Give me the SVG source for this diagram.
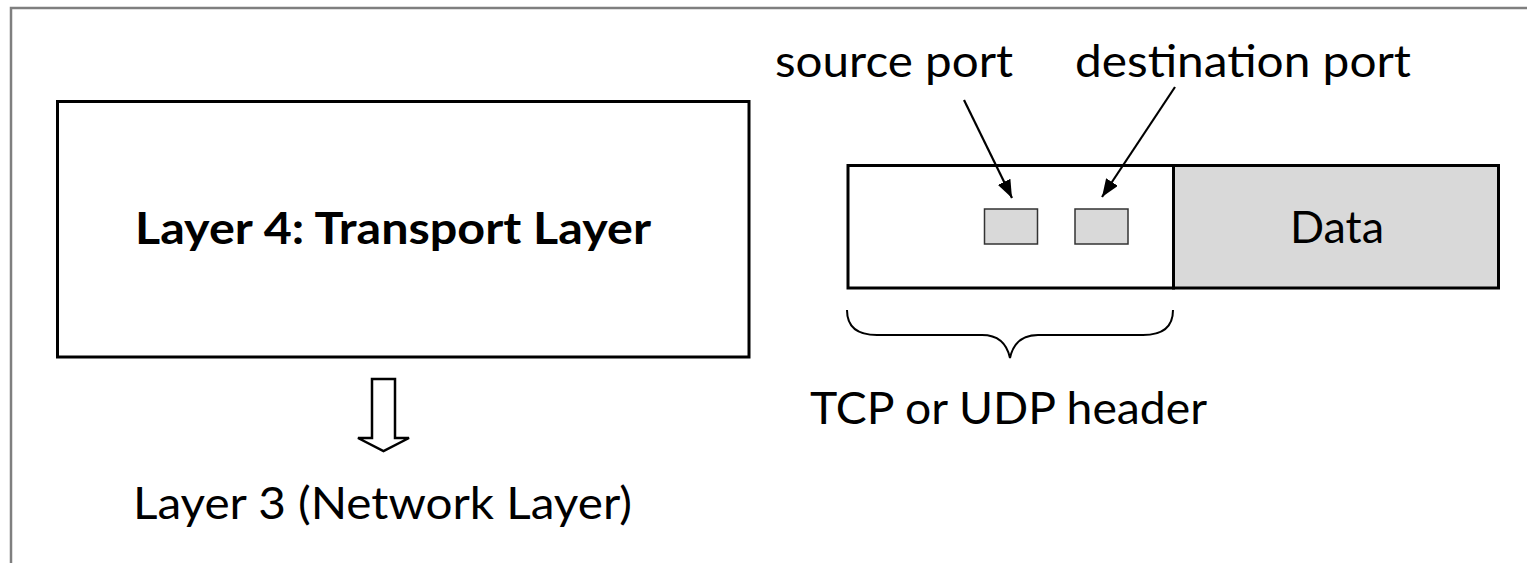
<svg xmlns="http://www.w3.org/2000/svg" width="1527" height="563" viewBox="0 0 1527 563">
  <style>
    .box { fill: #ffffff; stroke: #000000; stroke-width: 3; }
    .shaded { fill: #d9d9d9; stroke: #000000; stroke-width: 3; }
    .field { fill: #d9d9d9; stroke: #333333; stroke-width: 1.5; }
    .lbl { font-family: Lato, "Open Sans", "Liberation Sans", sans-serif; fill: #000000; }
    .bold { font-weight: bold; }
    .pointer { stroke: #000000; stroke-width: 2.2; fill: none; }
  </style>
  <defs>
    <marker id="head" viewBox="0 0 18 14" refX="18" refY="7" markerWidth="18" markerHeight="14" markerUnits="userSpaceOnUse" orient="auto">
      <path d="M0,0 L18,7 L0,14 Z" fill="#000000"/>
    </marker>
  </defs>

  <!-- outer frame -->
  <rect x="11" y="8" width="1600" height="600" fill="#ffffff" stroke="#7f7f7f" stroke-width="2.5"/>

  <!-- transport layer block -->
  <g id="transport-layer">
    <rect class="box" x="57.5" y="101.5" width="691.5" height="255.5"/>
    <text class="lbl bold" x="135" y="244" font-size="44" textLength="516" lengthAdjust="spacingAndGlyphs">Layer 4: Transport Layer</text>
  </g>

  <!-- hollow arrow down to network layer -->
  <g id="down-arrow">
    <polygon points="372,379 395,379 395,438 409,438 383.5,451 358,438 372,438" fill="#ffffff" stroke="#000000" stroke-width="2.5" stroke-linejoin="miter"/>
  </g>

  <g id="network-layer">
    <text class="lbl" x="133" y="519" font-size="44" textLength="499" lengthAdjust="spacingAndGlyphs">Layer 3 (Network Layer)</text>
  </g>

  <!-- segment: header + data -->
  <g id="header">
    <rect class="box" x="848" y="165.5" width="325.5" height="122.5"/>
  </g>
  <g id="source-port-field">
    <rect class="field" x="984.5" y="209" width="53" height="35"/>
  </g>
  <g id="dest-port-field">
    <rect class="field" x="1075" y="209" width="53" height="35"/>
  </g>
  <g id="data">
    <rect class="shaded" x="1173.5" y="165.5" width="325" height="122.5"/>
    <text class="lbl" x="1290" y="243" font-size="44" textLength="94" lengthAdjust="spacingAndGlyphs">Data</text>
  </g>

  <g id="source-port-label">
    <text class="lbl" x="775" y="77" font-size="44" textLength="238" lengthAdjust="spacingAndGlyphs">source port</text>
  </g>
  <g id="dest-port-label">
    <text class="lbl" x="1075" y="77" font-size="44" textLength="336" lengthAdjust="spacingAndGlyphs">destination port</text>
  </g>

  <g id="header-brace">
    <path d="M847,310 Q847,335 877,335 L982,335 Q1005,335 1010,358 Q1015,335 1038,335 L1143,335 Q1173,335 1173,310" fill="none" stroke="#000000" stroke-width="2"/>
    <text class="lbl" x="810" y="424" font-size="44" textLength="397" lengthAdjust="spacingAndGlyphs">TCP or UDP header</text>
  </g>

  <!-- connectors -->
  <g id="connectors">
    <line class="pointer" x1="964" y1="100" x2="1012" y2="198" marker-end="url(#head)"/>
    <line class="pointer" x1="1175" y1="87" x2="1102" y2="197" marker-end="url(#head)"/>
  </g>
</svg>
